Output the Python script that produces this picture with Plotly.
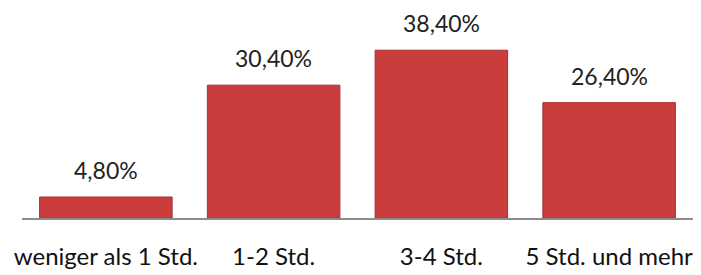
import plotly.graph_objects as go

categories = ["weniger als 1 Std.", "1-2 Std.", "3-4 Std.", "5 Std. und mehr"]
values = [4.8, 30.4, 38.4, 26.4]
labels = ["4,80%", "30,40%", "38,40%", "26,40%"]

FONT = "Lato"

fig = go.Figure()
fig.add_trace(go.Bar(
    x=categories, y=values,
    marker=dict(color="#CB3C3D", line=dict(color="#A83032", width=1)),
    hoverinfo="skip",
))

for c, v, t in zip(categories, values, labels):
    fig.add_annotation(x=c, y=v, text=t, showarrow=False, yanchor="bottom",
                       yshift=12, borderpad=0,
                       font=dict(family=FONT, size=23, color="#222222"))

# page body adds an 8px offset, so the figure is sized to fit the window
fig.update_layout(
    width=693, height=267,
    margin=dict(l=14, r=8, t=2, b=57, autoexpand=False),
    paper_bgcolor="white", plot_bgcolor="white",
    bargap=0.21,
    showlegend=False,
)
fig.update_xaxes(showline=True, linecolor="#8C8C8C", linewidth=1.5,
                 ticks="", tickfont=dict(family=FONT, size=24, color="#111111"),
                 ticklabelstandoff=16, automargin=False)
fig.update_yaxes(range=[0, 47.6], visible=False, showgrid=False, automargin=False)

fig.write_html("out.html")
